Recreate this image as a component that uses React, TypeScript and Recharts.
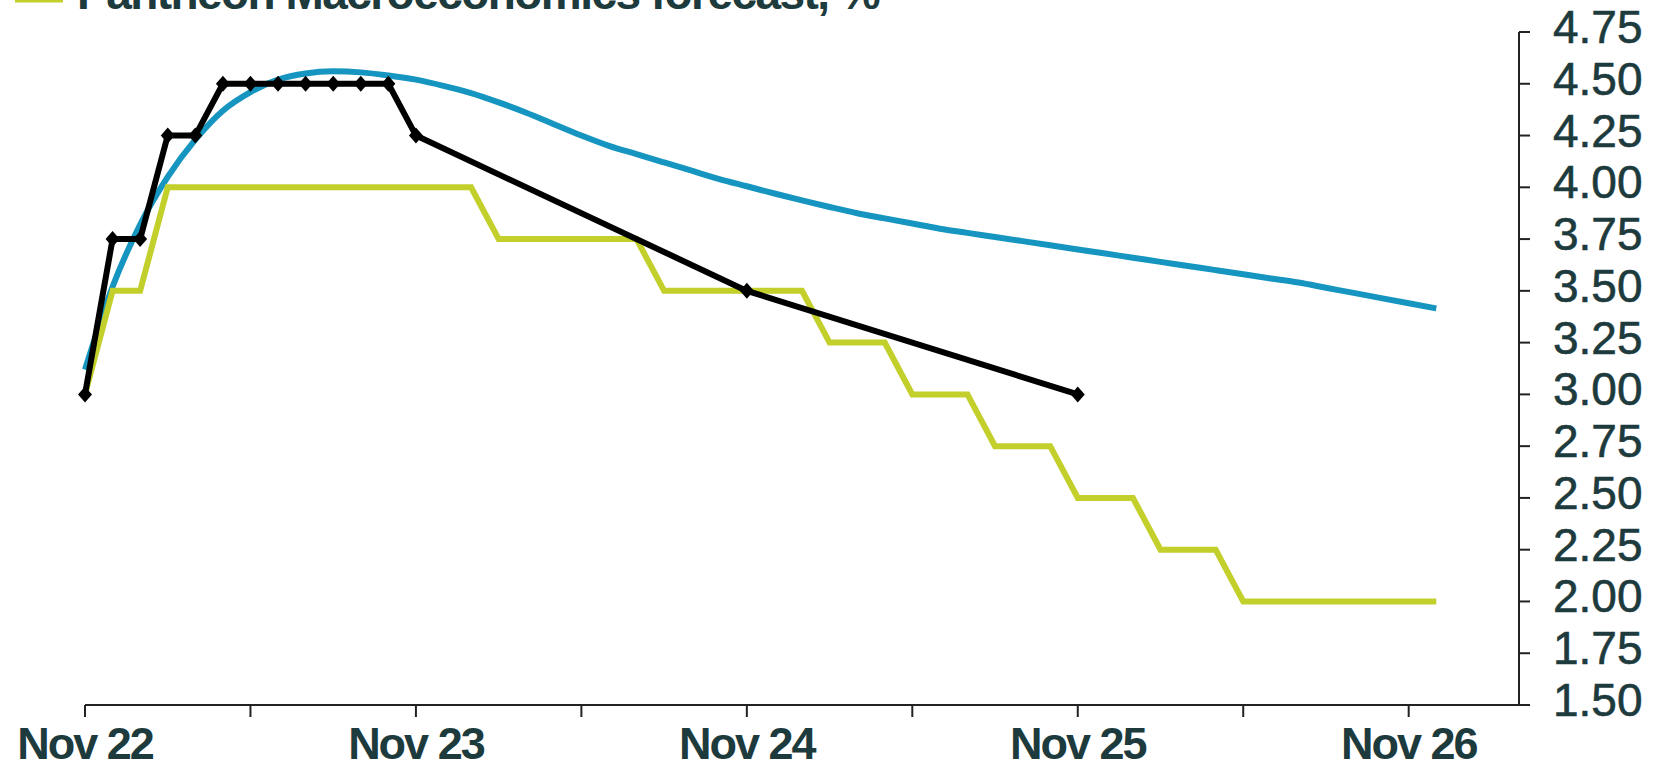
import React from "react";
import { LineChart, Line, XAxis, YAxis } from "recharts";

// month index 0 = Nov 22
const pathMonths = [
  0, 1, 2, 3, 4, 5, 6, 7, 8, 9, 10, 11, 12, 13, 14, 15, 16, 17, 18, 19, 20, 21, 22, 23, 24,
  25, 26, 27, 28, 29, 30, 31, 32, 33, 34, 35, 36, 37, 38, 39, 40, 41, 42, 43, 44, 45, 46, 47, 48, 49,
];

// smooth market curve (blue)
const marketPath = [
  3.12, 3.52, 3.82, 4.05, 4.23, 4.37, 4.46, 4.52, 4.55, 4.56, 4.555, 4.54, 4.52, 4.49, 4.455, 4.41,
  4.36, 4.305, 4.25, 4.2, 4.16, 4.12, 4.08, 4.04, 4.005, 3.97, 3.937, 3.905, 3.875, 3.85, 3.825,
  3.8, 3.78, 3.76, 3.74, 3.72, 3.7, 3.68, 3.66, 3.64, 3.62, 3.6, 3.58, 3.56, 3.54, 3.515, 3.49,
  3.465, 3.44, 3.415,
];

// Pantheon forecast (stepped, green)
const forecastPath = [
  3.0, 3.5, 3.5, 4.0, 4.0, 4.0, 4.0, 4.0, 4.0, 4.0, 4.0, 4.0, 4.0, 4.0, 4.0, 3.75, 3.75, 3.75,
  3.75, 3.75, 3.75, 3.5, 3.5, 3.5, 3.5, 3.5, 3.5, 3.25, 3.25, 3.25, 3.0, 3.0, 3.0, 2.75, 2.75,
  2.75, 2.5, 2.5, 2.5, 2.25, 2.25, 2.25, 2.0, 2.0, 2.0, 2.0, 2.0, 2.0, 2.0, 2.0,
];

// policy rate path with markers (black)
const policyMonths = [0, 1, 2, 3, 4, 5, 6, 7, 8, 9, 10, 11, 12, 24, 36];
const policyRate = [3.0, 3.75, 3.75, 4.25, 4.25, 4.5, 4.5, 4.5, 4.5, 4.5, 4.5, 4.5, 4.25, 3.5, 3.0];

const xTicks = [0, 6, 12, 18, 24, 30, 36, 42, 48];
const labelMonths = [0, 12, 24, 36, 48];
const labelTexts = ["Nov 22", "Nov 23", "Nov 24", "Nov 25", "Nov 26"];
const yTicks = [1.5, 1.75, 2.0, 2.25, 2.5, 2.75, 3.0, 3.25, 3.5, 3.75, 4.0, 4.25, 4.5, 4.75];

const monthly = pathMonths.map((m, i) => ({ month: m, market: marketPath[i], forecast: forecastPath[i] }));
const policy = policyMonths.map((m, i) => ({ month: m, policy: policyRate[i] }));

const FONT = '"Liberation Sans", Arial, sans-serif';
const TEXT = "#1d3a3d";
const BLUE = "#1595bf";
const GREEN = "#c3cf2b";

const XTick = (props: any) => {
  const { x, y, payload } = props;
  const idx = labelMonths.indexOf(payload.value);
  if (idx < 0) return null;
  return (
    <text x={x} y={y + 42} textAnchor="middle" fill={TEXT} fontFamily={FONT} fontSize={45} fontWeight="bold" letterSpacing={-2}>
      {labelTexts[idx]}
    </text>
  );
};

const YTick = (props: any) => {
  const { x, y, payload } = props;
  return (
    <text x={x + 23} y={y + 11} textAnchor="start" fill={TEXT} stroke={TEXT} strokeWidth={0.6} fontFamily={FONT} fontSize={46}>
      {payload.value.toFixed(2)}
    </text>
  );
};

const Diamond = (props: any) => {
  const { cx, cy } = props;
  if (cx == null || cy == null) return null;
  return <polygon points={`${cx},${cy - 8} ${cx + 7},${cy} ${cx},${cy + 8} ${cx - 7},${cy}`} fill="#000" />;
};

export default function App() {
  return (
    <div style={{ position: "absolute", left: 0, top: 0, width: 1659, height: 766, background: "#fff" }}>
      <LineChart width={1659} height={766} data={monthly} margin={{ top: 32, right: 0, bottom: 0, left: 85 }}>
        <XAxis
          dataKey="month"
          type="number"
          domain={[0, 52]}
          ticks={xTicks}
          interval={0}
          tick={<XTick />}
          tickSize={12}
          tickMargin={0}
          height={61}
          axisLine={{ stroke: "#222", strokeWidth: 2 }}
          tickLine={{ stroke: "#222", strokeWidth: 2 }}
        />
        <YAxis
          orientation="right"
          domain={[1.5, 4.75]}
          ticks={yTicks}
          interval={0}
          tick={<YTick />}
          tickSize={11}
          tickMargin={0}
          width={140}
          axisLine={{ stroke: "#222", strokeWidth: 2 }}
          tickLine={{ stroke: "#222", strokeWidth: 2 }}
        />
        <Line type="monotone" dataKey="market" stroke={BLUE} strokeWidth={6} dot={false} isAnimationActive={false} />
        <Line type="linear" dataKey="forecast" stroke={GREEN} strokeWidth={6} dot={false} isAnimationActive={false} />
        <Line
          data={policy}
          type="linear"
          dataKey="policy"
          stroke="#000"
          strokeWidth={6}
          dot={<Diamond />}
          isAnimationActive={false}
        />
      </LineChart>
      <svg width={1659} height={40} style={{ position: "absolute", left: 0, top: 0 }}>
        <line x1={15} y1={0} x2={63} y2={0} stroke={GREEN} strokeWidth={5} />
        <text x={77} y={9} fill={TEXT} fontFamily={FONT} fontSize={46} fontWeight="bold" letterSpacing={-1.55}>
          Pantheon Macroeconomics forecast, %
        </text>
      </svg>
    </div>
  );
}
